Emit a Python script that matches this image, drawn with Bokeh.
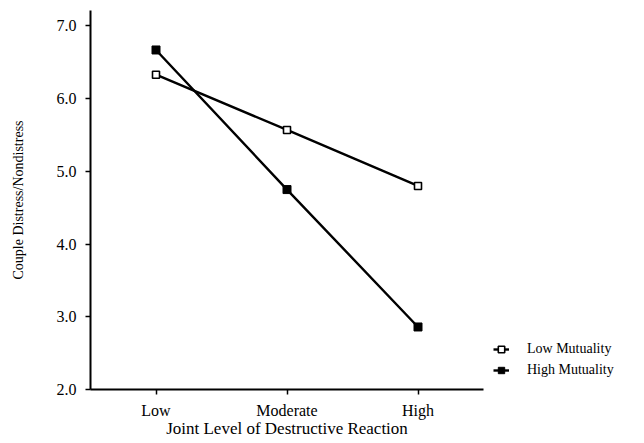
from bokeh.plotting import figure
from bokeh.models import FactorRange, Range1d, FixedTicker, PrintfTickFormatter, Legend, LegendItem
from bokeh.embed import file_html
from bokeh.resources import INLINE

categories = ["Low", "Moderate", "High"]
low_mutuality = [6.33, 5.57, 4.80]
high_mutuality = [6.67, 4.75, 2.86]
y_ticks = [2, 3, 4, 5, 6, 7]

FONT = "Liberation Serif"

p = figure(frame_width=393, frame_height=379, output_backend="svg", toolbar_location=None,
           x_range=FactorRange(*categories, range_padding=0),
           y_range=Range1d(2.0, 7.213),
           min_border_left=90, min_border_top=10, min_border_right=150, min_border_bottom=48)
p.outline_line_color = None
p.xgrid.grid_line_color = None
p.ygrid.grid_line_color = None
p.background_fill_color = "white"

l1 = p.line(categories, low_mutuality, line_color="black", line_width=2.4)
s1 = p.scatter(categories, low_mutuality, marker="square", size=7, fill_color="white",
               line_color="black", line_width=1.6)
l2 = p.line(categories, high_mutuality, line_color="black", line_width=2.4)
s2 = p.scatter(categories, high_mutuality, marker="square", size=8, fill_color="black",
               line_color="black", line_width=1)

for ax in (p.xaxis[0], p.yaxis[0]):
    ax.axis_line_width = 2
    ax.axis_line_color = "black"
    ax.major_tick_line_width = 1.5
    ax.major_tick_in = 0
    ax.major_tick_out = 5
    ax.minor_tick_line_color = None
    ax.major_label_text_font = FONT
    ax.major_label_text_font_size = "16px"
    ax.major_label_text_color = "black"
    ax.axis_label_text_font = FONT
    ax.axis_label_text_font_style = "normal"
    ax.axis_label_text_color = "black"

p.yaxis[0].ticker = FixedTicker(ticks=y_ticks)
p.yaxis[0].formatter = PrintfTickFormatter(format="%.1f")
p.yaxis[0].major_label_standoff = 9
p.yaxis[0].axis_label = "Couple Distress/Nondistress"
p.yaxis[0].axis_label_text_font_size = "14px"
p.yaxis[0].axis_label_standoff = 28

p.xaxis[0].major_label_standoff = 7
p.xaxis[0].axis_label = "Joint Level of Destructive Reaction"
p.xaxis[0].axis_label_text_font_size = "17px"
p.xaxis[0].axis_label_standoff = -3

legend = Legend(items=[LegendItem(label="Low Mutuality", renderers=[l1, s1]),
                       LegendItem(label="High Mutuality", renderers=[l2, s2])],
                location=(10, 9), orientation="vertical")
legend.label_text_font = FONT
legend.label_text_font_size = "14px"
legend.label_text_color = "black"
legend.glyph_width = 16
legend.glyph_height = 20
legend.label_standoff = 18
legend.label_height = 20
legend.spacing = 1
legend.padding = 0
legend.margin = 0
legend.border_line_color = None
legend.background_fill_alpha = 0
p.add_layout(legend, "right")

open("out.html", "w").write(file_html(p, INLINE))
